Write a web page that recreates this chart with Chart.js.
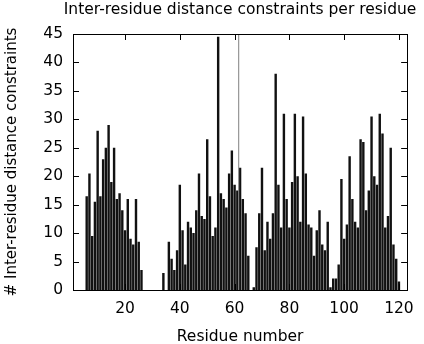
<!DOCTYPE html>
<html>
<head>
<meta charset="utf-8">
<script src="https://cdn.jsdelivr.net/npm/chart.js@4.4.1/dist/chart.umd.min.js"></script>
<style>
  html, body { margin: 0; padding: 0; background: #fff; }
</style>
</head>
<body>
<canvas id="chart" width="424" height="344"></canvas>
<script>
// Inter-residue distance constraints per residue (gnuplot-style bar chart)

const FONT = "'DejaVu Sans', sans-serif";

const chartTitle = 'Inter-residue distance constraints per residue';
const xTitle = 'Residue number';
const yTitle = '# Inter-residue distance constraints';

// constraint counts for residues 6..120
const firstResidue = 6;
const constraintCounts = [
  16.5, 20.5, 9.5, 15.5, 28, 16.5, 23, 25, 29, 19,
  25, 16, 17, 14, 10.5, 16, 9, 8, 16, 8.5,
  3.5, 0, 0, 0, 0, 0, 0, 0, 3, 0,
  8.5, 5.5, 3.5, 7, 18.5, 10.5, 4.5, 12, 11, 10,
  14, 20.5, 13, 12.5, 26.5, 16.5, 9.5, 11, 44.5, 17,
  16, 14.5, 20.5, 24.5, 18.5, 17.5, 21.5, 16, 13.5, 6,
  0, 0.5, 7.5, 13.5, 21.5, 7, 12, 9, 13.5, 38,
  18.5, 11, 31, 16, 11, 19, 31, 20, 12, 30.5,
  20.5, 11.5, 11, 6, 10.5, 14, 8, 7, 12, 0.5,
  2, 2, 4.5, 19.5, 9, 11.5, 23.5, 16, 12, 11,
  26.5, 26, 14, 17.5, 30.5, 20, 18.5, 31, 27.5, 11,
  13, 25, 8, 5.5, 1.5
];
const residues = constraintCounts.map((_, i) => firstResidue + i);

const xTickValues = [20, 40, 60, 80, 100, 120];
const yTickValues = [0, 5, 10, 15, 20, 25, 30, 35, 40, 45];
const xRange = [1, 123];
const yRange = [0, 45];
const dividerResidue = 61.5;

// frame box, inward ticks on all four sides, and the top title
const framePlugin = {
  id: 'frame',
  afterDraw(chart) {
    const { ctx, chartArea: a, scales } = chart;
    const len = 6;
    ctx.save();
    ctx.strokeStyle = '#000';
    ctx.lineWidth = 1;
    ctx.beginPath();
    xTickValues.forEach(v => {
      const x = Math.round(scales.x.getPixelForValue(v)) + 0.5;
      ctx.moveTo(x, a.bottom); ctx.lineTo(x, a.bottom - len);
      ctx.moveTo(x, a.top); ctx.lineTo(x, a.top + len);
    });
    yTickValues.forEach(v => {
      const y = Math.round(scales.y.getPixelForValue(v)) + 0.5;
      ctx.moveTo(a.left, y); ctx.lineTo(a.left + len, y);
      ctx.moveTo(a.right, y); ctx.lineTo(a.right - len, y);
    });
    ctx.stroke();
    ctx.strokeRect(Math.round(a.left) + 0.5, Math.round(a.top) + 0.5,
      Math.round(a.right - a.left), Math.round(a.bottom - a.top));

    ctx.fillStyle = '#000';
    ctx.font = `15.5px ${FONT}`;
    ctx.textAlign = 'center';
    ctx.textBaseline = 'alphabetic';
    ctx.fillText(chartTitle, (a.left + a.right) / 2, 14);
    ctx.restore();
  }
};

new Chart(document.getElementById('chart'), {
  type: 'bar',
  data: {
    datasets: [
      {
        type: 'line',
        data: [{ x: dividerResidue, y: yRange[0] }, { x: dividerResidue, y: yRange[1] }],
        borderColor: '#808080',
        borderWidth: 1,
        pointRadius: 0,
        order: 0
      },
      {
        data: residues.map((r, i) => ({ x: r, y: constraintCounts[i] })),
        backgroundColor: '#111',
        borderWidth: 0,
        barPercentage: 0.88,
        categoryPercentage: 1,
        order: 1
      }
    ]
  },
  options: {
    responsive: false,
    animation: false,
    devicePixelRatio: 1,
    layout: { padding: { top: 34, right: 11, left: 0, bottom: 0 } },
    plugins: {
      legend: { display: false },
      tooltip: { enabled: false },
      title: { display: false }
    },
    scales: {
      x: {
        type: 'linear',
        min: xRange[0],
        max: xRange[1],
        offset: false,
        afterBuildTicks: s => { s.ticks = xTickValues.map(v => ({ value: v })); },
        afterFit: s => { s.height = 54; },
        grid: { display: false, drawTicks: false },
        border: { display: false },
        ticks: {
          color: '#000',
          font: { family: FONT, size: 15.5 },
          padding: 10,
          maxRotation: 0,
          autoSkip: false
        },
        title: {
          display: true,
          text: xTitle,
          color: '#000',
          font: { family: FONT, size: 15.5 },
          padding: { top: 0, bottom: -2 }
        }
      },
      y: {
        min: yRange[0],
        max: yRange[1],
        afterBuildTicks: s => { s.ticks = yTickValues.map(v => ({ value: v })); },
        afterFit: s => { s.width = 73; },
        grid: { display: false, drawTicks: false },
        border: { display: false },
        ticks: {
          color: '#000',
          font: { family: FONT, size: 15.5 },
          padding: 10
        },
        title: {
          display: true,
          text: yTitle,
          color: '#000',
          font: { family: FONT, size: 15 },
          padding: { top: 3, bottom: 0 }
        }
      }
    }
  },
  plugins: [framePlugin]
});
</script>
</body>
</html>
